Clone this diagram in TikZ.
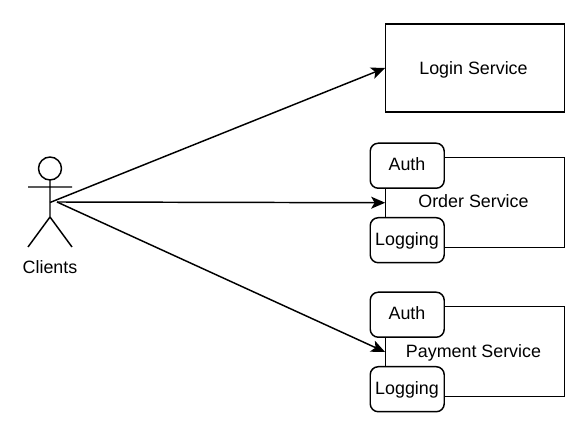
\documentclass[tikz,border=0pt]{standalone}
\usepackage{fontspec}
\setmainfont{Liberation Sans}
\usetikzlibrary{arrows.meta}
\tikzset{
  x=0.75pt,y=-0.75pt,
  every node/.style={font=\fontsize{13.4}{15}\selectfont,text=black},
  line/.style={draw=black,line width=1.1pt},
  svc/.style={line,rectangle,anchor=north west,inner sep=0pt},
  tag/.style={line,fill=white,rectangle,rounded corners=6pt,minimum width=55.5pt,minimum height=33.75pt,inner sep=0pt,anchor=north west},
  flow/.style={line,-{Stealth[length=10.5pt,width=9pt,inset=2.6pt]},shorten >=-0.5pt},
  label/.style={inner sep=0pt,anchor=base}
}
\begin{document}
\begin{tikzpicture}
\useasboundingbox (0,0) rectangle (586,434);
% actor
\draw[line] (50,168.5) circle [radius=8.6pt];
\draw[line] (50,180) -- (50,217) (28,187) -- (72,187) (28,247) -- (50,217) -- (72,247);
\node[label] (clients) at (50,273.3) {Clients};
\coordinate (body) at (50,202.5);
\coordinate (actor) at (57,202);
% services
\node[svc,minimum width=134.25pt,minimum height=66pt] (login) at (384.5,23.5) {};
\node[label] (logintext) at (473.5,74.3) {Login Service};
\node[svc,minimum width=134.25pt,minimum height=67.5pt] (order) at (384.5,157) {};
\node[label] (ordertext) at (473.5,208) {Order Service};
\node[svc,minimum width=134.25pt,minimum height=67.5pt] (payment) at (384.5,306) {};
\node[label] (paymenttext) at (473.5,357.7) {Payment Service};
% plugins
\node[tag] (auth1) at (369.5,142.5) {};
\node[label] (auth1text) at (407,170.2) {Auth};
\node[tag] (log1) at (369.5,217) {};
\node[label] (log1text) at (407,245.2) {Logging};
\node[tag] (auth2) at (369.5,291.5) {};
\node[label] (auth2text) at (407,319.4) {Auth};
\node[tag] (log2) at (369.5,366) {};
\node[label] (log2text) at (407,394.4) {Logging};
% connectors
\draw[flow] (body) -- (login.west);
\draw[flow] (actor) -- (order.west);
\draw[flow] (actor) -- (payment.west);
\end{tikzpicture}
\end{document}
